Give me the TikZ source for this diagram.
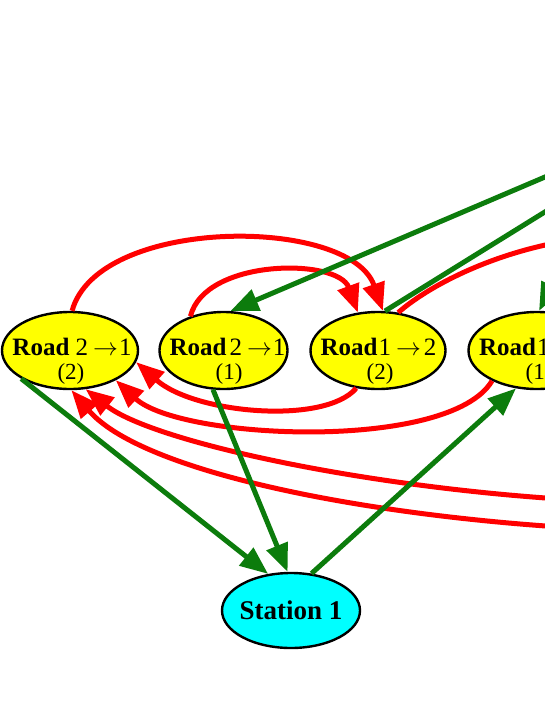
\documentclass[tikz,border=0pt]{standalone}
\usepackage{fontspec}
\setmainfont{Liberation Serif}
\usetikzlibrary{arrows.meta,shapes.geometric}
\definecolor{edgegreen}{RGB}{12,124,12}
\definecolor{edgered}{RGB}{255,0,0}
\definecolor{nodeyellow}{RGB}{255,255,0}
\definecolor{nodecyan}{RGB}{0,255,255}
\begin{document}
\begin{tikzpicture}[x=1pt,y=-1pt,
  roadnode/.style={ellipse, draw=black, line width=2.4pt, fill=nodeyellow, inner sep=0pt, minimum height=77pt},
  stationnode/.style={ellipse, draw=black, line width=2.4pt, fill=nodecyan, inner sep=0pt, minimum width=138pt, minimum height=75pt},
  toptext/.style={anchor=base, inner sep=0pt, font=\fontsize{25}{28}\selectfont},
  subtext/.style={anchor=base, inner sep=0pt, font=\fontsize{23}{26}\selectfont},
  stationtext/.style={anchor=base, inner sep=0pt, font=\fontsize{27}{30}\selectfont\bfseries},
  redge/.style={draw=edgered, line width=5pt},
  gedge/.style={draw=edgegreen, line width=5pt},
  arrowhd/.style={-{Triangle[length=28pt,width=22pt]}}
]
\path[use as bounding box] (0,0) rectangle (545,705);
\clip (0,0) rectangle (545,705);

% nodes
\node[roadnode, minimum width=136pt] (r21b) at (70,350.5) {};
\node[roadnode, minimum width=128pt] (r21a) at (223.5,350.5) {};
\node[roadnode, minimum width=135pt] (r12b) at (378,350.5) {};
\node[roadnode, minimum width=137pt] (r12a) at (537,350.5) {};
\node[stationnode] (st) at (291,610.5) {};

\node[toptext] (r21bt) at (72,355) {{\bfseries Road}\ 2\hspace{5pt}$\rightarrow$\hspace{1pt}1};
\node[subtext] (r21bn) at (71,379) {(2)};
\node[toptext] (r21at) at (227.5,355) {{\bfseries Road}\hspace{3pt}2\hspace{5pt}$\rightarrow$\hspace{1pt}1};
\node[subtext] (r21an) at (229,379) {(1)};
\node[toptext] (r12bt) at (378.5,355) {{\bfseries Road}\hspace{1pt}1\hspace{5pt}$\rightarrow$\hspace{3pt}2};
\node[subtext] (r12bn) at (380,379) {(2)};
\node[toptext] (r12at) at (537,355) {{\bfseries Road}\hspace{1pt}1\hspace{5pt}$\rightarrow$\hspace{3pt}2};
\node[subtext] (r12an) at (539,379) {(1)};
\node[stationtext] (stt) at (291,619) {Station 1};

% free ends outside the visible part
\coordinate (eR) at (560,499);
\coordinate (fR) at (560,527);
\coordinate (gR) at (560,242);
\coordinate (g4R) at (560,170.6);
\coordinate (g5R) at (560,202.6);
\coordinate (g6R) at (575,240);

% red edges
\draw[redge, arrowhd] (r21b.87) .. controls (98,216) and (350,216) .. (r12b.83);
\draw[redge, arrowhd] (r21a.134) .. controls (205,258) and (338,258) .. (r12b.118);
\draw[redge, arrowhd] (r12b.240) .. controls (325,425) and (195,414) .. (r21b.350);
\draw[redge, arrowhd] (r12a.214) .. controls (450,452) and (180,440) .. (r21b.327);
\draw[redge, arrowhd] (eR) .. controls (350,485) and (150,440) .. (r21b.292);
\draw[redge, arrowhd] (fR) .. controls (350,513) and (140,470) .. (r21b.272);
\draw[redge] (r12b.62) .. controls (430,285) and (490,255) .. (gR);

% green edges
\draw[gedge, arrowhd] (r21b.210) -- (st.122);
\draw[gedge, arrowhd] (r21a.255) -- (st.95);
\draw[gedge, arrowhd] (st.61) -- (r12a.241);
\draw[gedge, arrowhd] (g4R) -- (r21a.80);
\draw[gedge] (r12b.80) -- (g5R);
\draw[gedge, arrowhd] (g6R) -- (r12a.87);
\end{tikzpicture}
\end{document}
